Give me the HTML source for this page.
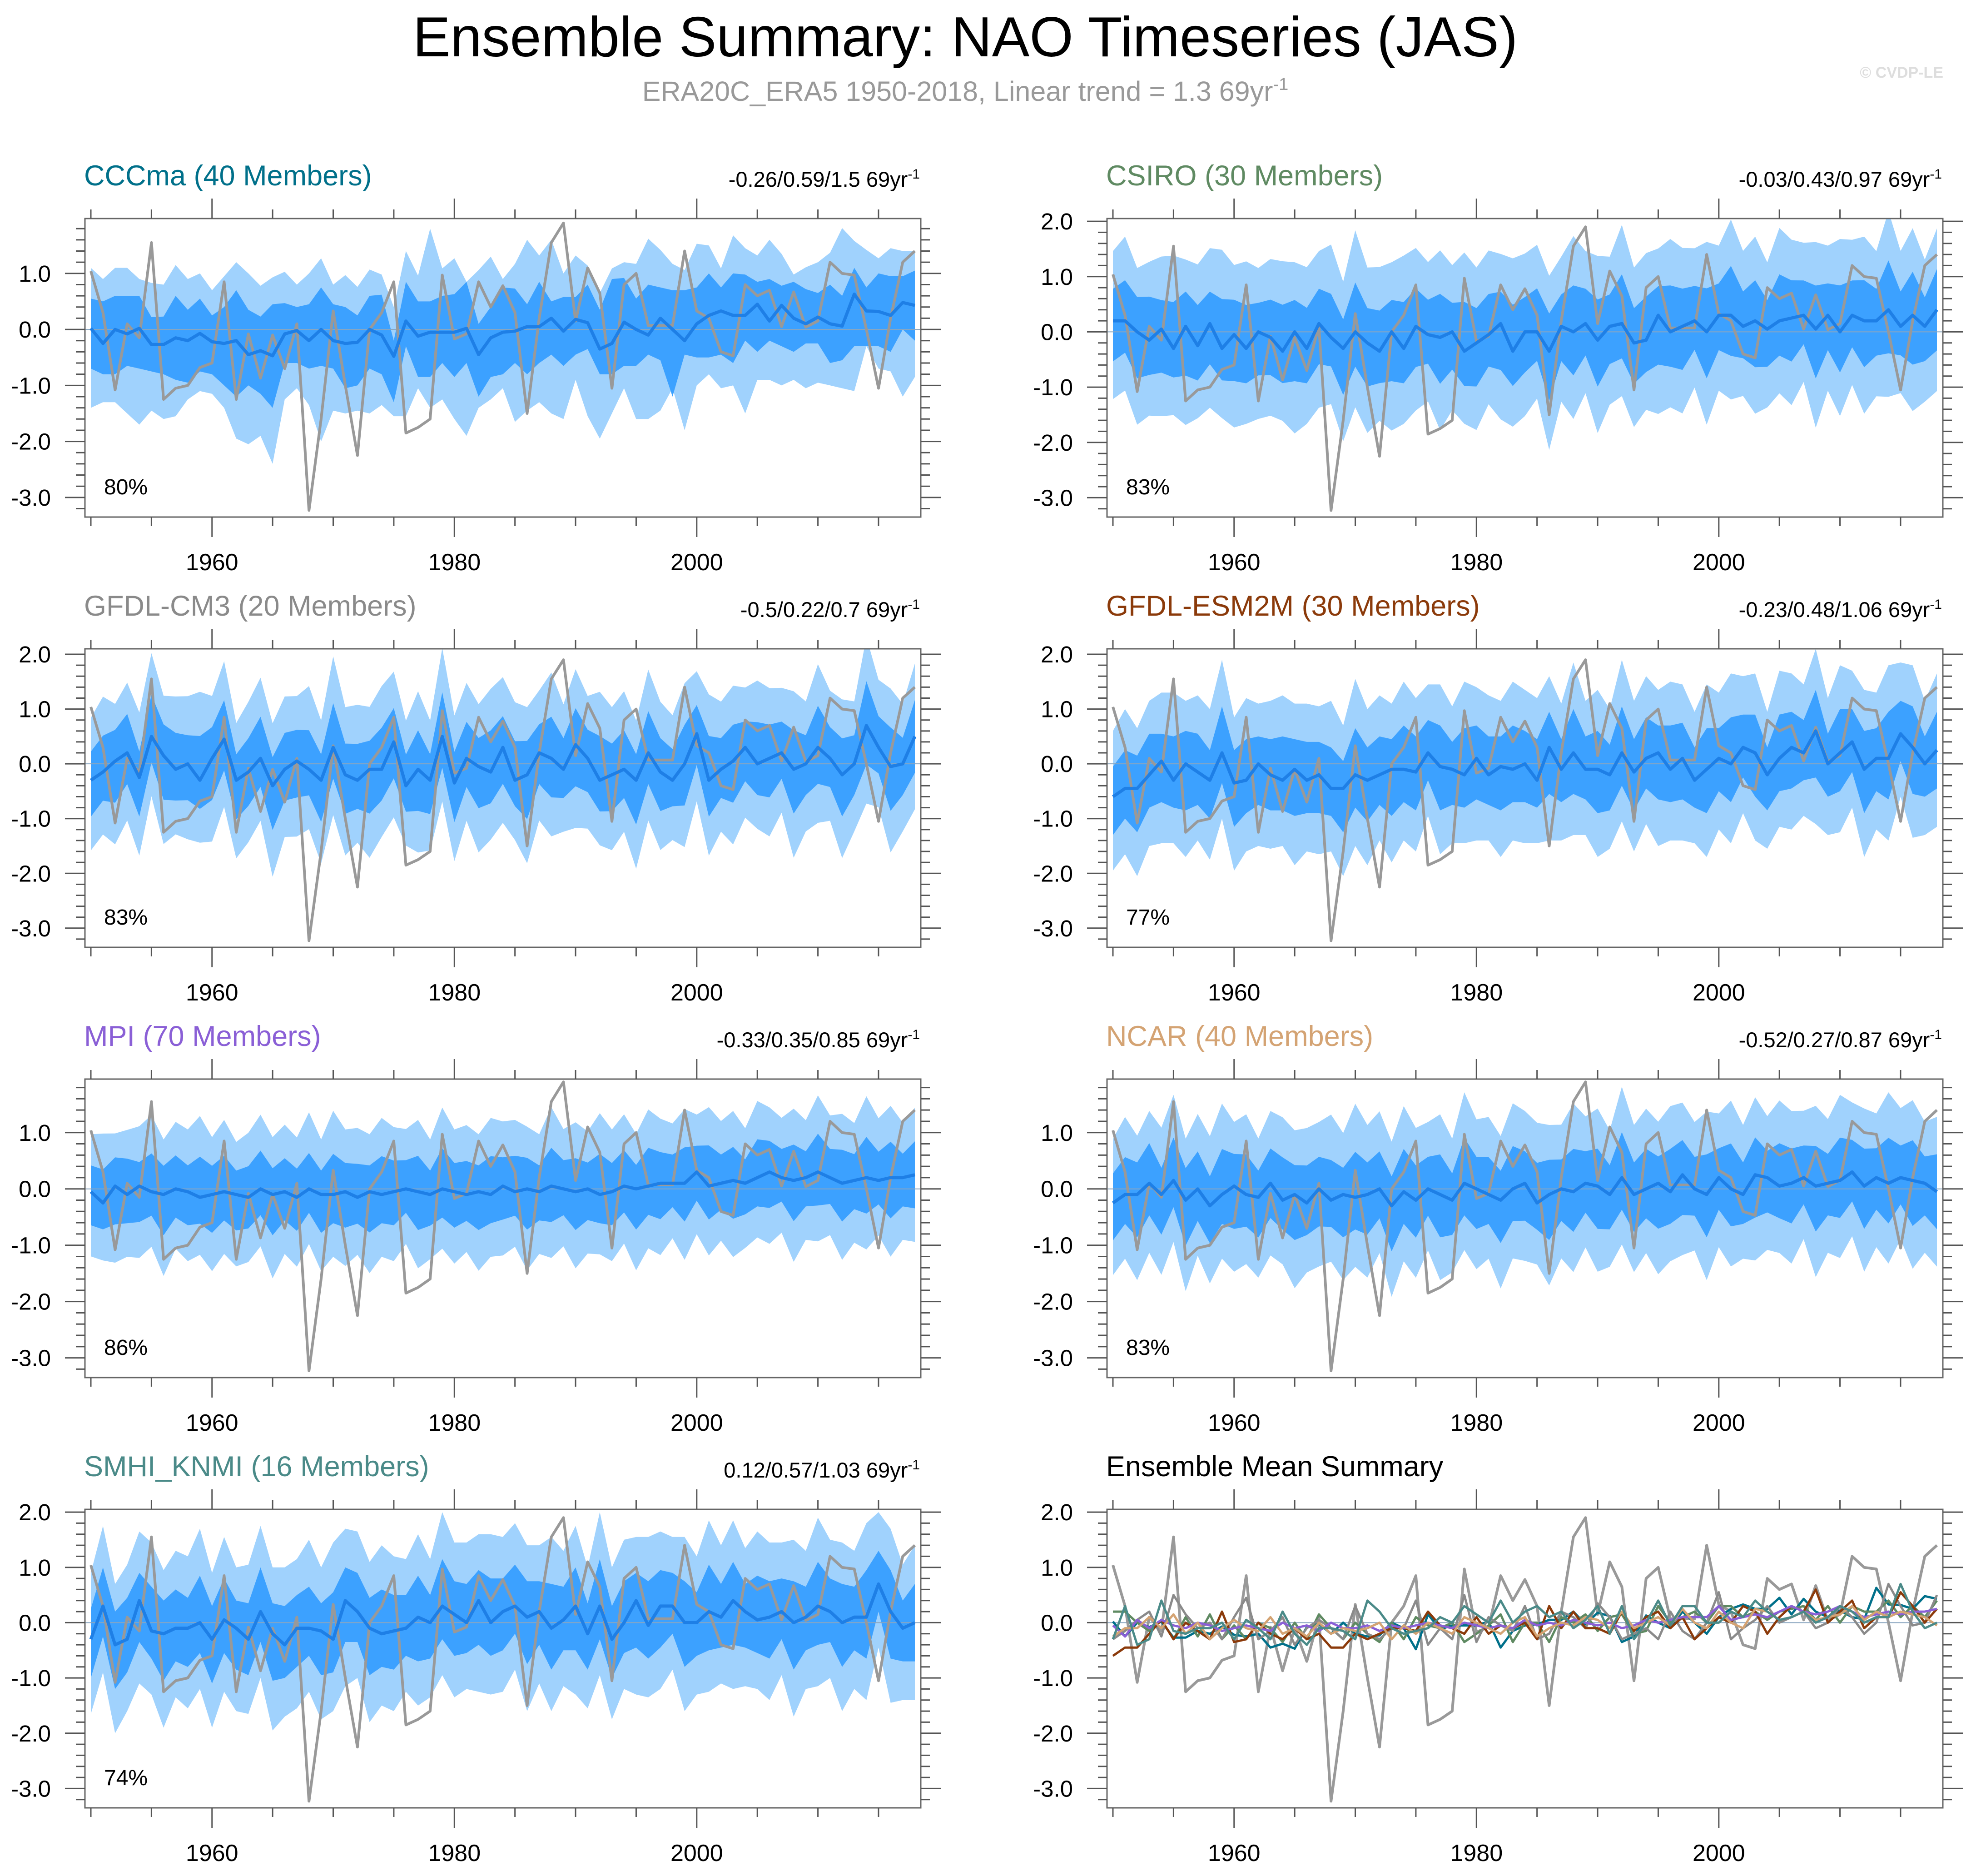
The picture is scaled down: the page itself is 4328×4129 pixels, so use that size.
<!DOCTYPE html>
<html><head><meta charset="utf-8">
<style>
html,body{margin:0;padding:0;background:#fff;}
svg{display:block;font-family:"Liberation Sans",Arial,sans-serif;}
</style></head>
<body>
<svg id="chart" width="4328" height="4129" viewBox="0 0 4328 4129" xmlns="http://www.w3.org/2000/svg">
<text x="2125" y="124" font-size="124" text-anchor="middle" fill="#000">Ensemble Summary: NAO Timeseries (JAS)</text>
<text x="2125" y="222" font-size="61" text-anchor="middle" fill="#999">ERA20C_ERA5 1950-2018, Linear trend = 1.3 69yr<tspan dy="-24" font-size="38">-1</tspan></text>
<text x="4278" y="171" font-size="34" font-weight="bold" text-anchor="end" fill="#ddd">© CVDP-LE</text>
<g id="panels"></g>
</svg>
<script>
// ---------- data ----------
const years = []; for (let y = 1950; y <= 2018; y++) years.push(y);
const obs = [1.04,0.3,-1.08,0.1,-0.15,1.55,-1.25,-1.05,-1.0,-0.68,
-0.6,0.85,-1.25,-0.08,-0.87,-0.1,-0.7,0.1,-3.23,-1.6,
0.33,-1.0,-2.25,0.0,0.3,0.85,-1.85,-1.75,-1.6,0.97,
-0.17,-0.08,0.85,0.4,0.78,0.3,-1.5,0.2,1.55,1.9,
0.15,1.1,0.65,-1.05,0.8,1.0,0.07,0.07,0.07,1.4,
0.33,0.2,-0.4,-0.47,0.8,0.6,0.7,0.05,0.67,0.04,
0.15,1.2,1.0,0.97,0.0,-1.05,0.2,1.2,1.4];
const cccmaMean = [0.02,-0.25,0.0,-0.08,0.02,-0.27,-0.27,-0.15,-0.2,-0.07,
-0.22,-0.25,-0.2,-0.45,-0.38,-0.47,-0.08,-0.02,-0.2,0.0,
-0.2,-0.25,-0.23,0.0,-0.1,-0.48,0.15,-0.12,-0.05,-0.05,
-0.05,0.02,-0.45,-0.15,-0.05,-0.03,0.05,0.05,0.2,-0.03,
0.18,0.12,-0.35,-0.25,0.13,0.0,-0.1,0.2,0.0,-0.2,
0.1,0.25,0.33,0.25,0.25,0.45,0.15,0.43,0.2,0.1,
0.22,0.1,0.06,0.63,0.33,0.32,0.25,0.48,0.43];
const cccmaOuterHi = [1.1,0.9,1.1,1.1,0.9,0.83,0.8,1.15,0.9,1.0,
0.7,0.95,1.2,1.0,0.78,0.93,1.03,0.8,1.0,1.27,
0.8,0.97,0.76,1.07,0.98,0.4,1.4,0.96,1.8,1.09,
1.27,0.85,1.06,1.3,0.9,1.17,1.6,1.32,1.6,1.0,
1.32,1.14,0.65,1.09,1.2,1.17,1.62,1.42,1.17,1.06,
1.53,1.5,1.09,1.68,1.45,1.32,1.6,1.35,0.98,1.11,
1.2,1.37,1.81,1.58,1.42,1.27,1.45,1.4,1.4];
const cccmaInnerHi = [0.55,0.5,0.6,0.6,0.6,0.22,0.23,0.6,0.35,0.55,
0.25,0.4,0.7,0.35,0.23,0.45,0.47,0.4,0.45,0.75,
0.45,0.4,0.25,0.6,0.62,-0.2,0.85,0.5,0.5,0.6,
0.63,0.85,0.1,0.4,0.75,0.73,0.45,0.85,0.5,0.58,
0.58,0.8,0.35,0.9,0.92,0.55,0.8,0.75,0.7,0.7,
0.75,1.0,0.75,1.0,0.98,0.85,0.9,0.78,0.85,0.72,
0.65,0.8,0.6,1.1,0.75,1.0,0.95,0.95,1.05];
const cccmaInnerLo = [-0.7,-0.8,-0.8,-0.65,-0.7,-0.75,-0.8,-0.9,-0.95,-0.75,
-0.8,-1.0,-1.2,-1.0,-1.15,-1.4,-0.6,-0.6,-0.7,-0.65,
-0.7,-1.05,-1.0,-0.7,-0.8,-1.3,-0.3,-0.85,-0.85,-0.6,
-0.85,-0.6,-1.2,-0.85,-0.8,-0.6,-0.8,-0.6,-0.45,-0.65,
-0.45,-0.35,-0.8,-0.8,-0.65,-0.65,-0.45,-0.55,-1.2,-0.45,
-0.5,-0.5,-0.45,-0.6,-0.2,-0.4,-0.2,-0.3,-0.4,-0.25,
-0.25,-0.6,-0.55,-0.3,-0.3,-0.3,-0.4,0.0,-0.2];
const cccmaOuterLo = [-1.4,-1.3,-1.3,-1.5,-1.7,-1.45,-1.6,-1.55,-1.25,-1.1,
-1.15,-1.4,-1.95,-2.05,-1.9,-2.4,-1.25,-1.05,-1.35,-2.0,
-1.45,-1.5,-1.45,-1.5,-1.35,-1.55,-1.55,-1.05,-1.4,-1.25,
-1.6,-1.9,-1.4,-1.25,-1.05,-1.65,-1.45,-1.3,-1.5,-1.6,
-0.9,-1.55,-1.95,-1.5,-1.05,-1.6,-1.6,-1.45,-1.05,-1.8,
-1.0,-0.8,-1.05,-1.0,-1.5,-0.9,-0.9,-1.0,-0.9,-1.05,
-0.95,-1.0,-1.05,-1.1,-0.3,-0.7,-0.75,-1.2,-0.85];
const csiroMean = [0.2,0.2,0.0,-0.15,0.05,-0.3,0.1,-0.25,0.15,-0.3,
-0.05,-0.3,0.0,-0.1,-0.35,0.0,-0.3,0.15,-0.1,-0.3,
0.0,-0.2,-0.35,0.0,-0.3,0.1,-0.05,-0.1,0.0,-0.35,
-0.2,-0.05,0.15,-0.35,0.0,0.0,-0.35,0.1,0.0,0.15,
-0.15,0.1,0.15,-0.2,-0.15,0.3,0.0,0.1,0.2,0.0,
0.3,0.3,0.1,0.2,0.05,0.2,0.25,0.3,0.05,0.3,
0.0,0.3,0.2,0.2,0.4,0.1,0.3,0.1,0.4];
const gfdlcm3Mean = [-0.3,-0.15,0.05,0.2,-0.25,0.5,0.15,-0.1,0.0,-0.3,
0.1,0.45,-0.3,-0.15,0.1,-0.4,-0.1,0.05,-0.1,-0.3,
0.3,-0.2,-0.3,-0.1,-0.1,0.4,-0.4,-0.1,-0.3,0.5,
-0.35,0.1,-0.05,-0.15,0.3,-0.3,-0.2,0.2,0.1,-0.1,
0.35,0.1,-0.3,-0.2,-0.1,-0.3,0.2,-0.15,-0.3,0.0,
0.55,-0.3,-0.1,0.05,0.3,0.0,0.1,0.2,-0.1,0.0,
0.3,0.1,-0.2,0.0,0.7,0.3,-0.05,0.0,0.5];
const esm2mMean = [-0.6,-0.45,-0.45,-0.2,0.05,-0.3,0.0,-0.15,-0.3,0.2,
-0.35,-0.3,0.0,-0.2,-0.3,-0.1,-0.3,-0.2,-0.45,-0.45,
-0.2,-0.3,-0.2,-0.1,-0.1,-0.15,0.2,-0.05,-0.1,-0.2,
0.1,-0.2,-0.05,-0.1,0.0,-0.3,0.3,-0.1,0.2,-0.1,
-0.1,-0.2,0.2,-0.15,0.1,0.2,-0.1,0.1,-0.3,-0.1,
0.1,0.0,0.3,0.2,-0.2,0.1,0.3,0.2,0.6,0.0,
0.2,0.4,-0.1,0.1,0.1,0.55,0.3,0.0,0.25];
const mpiMean = [-0.05,-0.25,0.05,-0.1,0.05,-0.05,-0.1,0.0,-0.05,-0.15,
-0.1,-0.05,-0.1,-0.15,0.0,-0.1,-0.05,-0.15,0.0,-0.1,
-0.1,-0.05,-0.15,-0.05,-0.1,-0.05,0.0,-0.05,-0.1,0.0,
-0.05,-0.1,-0.05,-0.1,0.05,-0.05,0.0,-0.05,0.05,0.0,
-0.05,0.0,-0.1,-0.05,0.05,0.0,0.05,0.1,0.1,0.1,
0.3,0.05,0.1,0.15,0.1,0.2,0.3,0.2,0.15,0.2,
0.3,0.2,0.1,0.15,0.2,0.15,0.2,0.2,0.25];
const ncarMean = [-0.25,-0.1,-0.1,0.1,-0.1,0.15,-0.2,0.0,-0.3,-0.1,
0.05,-0.1,-0.15,0.1,-0.2,-0.1,-0.25,0.0,-0.2,-0.1,
-0.15,-0.1,0.0,-0.3,-0.05,-0.2,0.0,-0.1,-0.2,0.1,
0.0,-0.1,-0.2,0.0,0.1,-0.25,-0.1,0.0,-0.05,0.1,
0.05,-0.1,0.2,-0.1,0.0,0.1,-0.05,0.25,0.0,-0.1,
0.2,0.0,-0.1,0.25,0.2,0.05,0.1,0.2,0.05,0.1,
0.15,0.3,0.05,0.2,0.1,0.2,0.15,0.1,-0.05];
const smhiMean = [-0.3,0.3,-0.4,-0.3,0.4,-0.15,-0.2,-0.1,-0.1,0.0,
-0.3,0.05,-0.1,-0.3,0.2,-0.2,-0.4,-0.1,-0.1,-0.15,
-0.3,0.4,0.2,-0.1,-0.2,-0.15,-0.1,0.1,0.0,0.3,
0.15,0.0,0.4,0.0,0.2,0.3,0.1,0.2,-0.1,0.05,
0.3,-0.2,0.3,-0.3,0.0,0.4,-0.05,0.3,0.3,0.0,
0.0,0.2,0.1,0.4,0.2,0.05,0.1,0.2,0.0,0.1,
0.3,0.2,0.0,0.1,0.1,0.7,0.2,-0.1,0.0];
const spreadInnerUp = [0.55,0.7,0.6,0.75,0.5,0.8,0.6,0.7,0.55,0.85,
0.6,0.75,0.5,0.65,0.8,0.55,0.7,0.6,0.75,0.5,
0.85,0.6,0.7,0.55,0.8,0.65,0.6,0.75,0.5,0.85,
0.6,0.7,0.55,0.8,0.6,0.75,0.65,0.55,0.8,0.6,
0.7,0.55,0.85,0.6,0.75,0.5,0.8,0.65,0.6,0.75,
0.55,0.85,0.6,0.7,0.5,0.8,0.65,0.6,0.75,0.55,
0.8,0.6,0.7,0.55,0.85,0.6,0.75,0.5,0.7];
const spreadInnerDn = [0.7,0.55,0.8,0.6,0.75,0.5,0.85,0.6,0.7,0.55,
0.8,0.6,0.75,0.65,0.55,0.85,0.6,0.7,0.5,0.8,
0.6,0.75,0.55,0.85,0.6,0.7,0.5,0.8,0.65,0.6,
0.75,0.55,0.8,0.6,0.7,0.5,0.85,0.6,0.75,0.55,
0.8,0.65,0.6,0.7,0.55,0.85,0.6,0.75,0.5,0.8,
0.6,0.7,0.55,0.8,0.65,0.6,0.75,0.5,0.85,0.6,
0.7,0.55,0.8,0.6,0.75,0.5,0.85,0.6,0.7];
const spreadOuterUp = [1.2,1.45,1.1,1.35,1.25,1.6,1.15,1.4,1.3,1.7,
1.2,1.5,1.1,1.35,1.55,1.2,1.4,1.25,1.6,1.15,
1.75,1.3,1.45,1.2,1.6,1.35,1.25,1.5,1.15,1.7,
1.3,1.45,1.2,1.6,1.35,1.5,1.3,1.2,1.65,1.25,
1.45,1.2,1.7,1.3,1.5,1.15,1.6,1.35,1.25,1.55,
1.2,1.65,1.3,1.45,1.15,1.6,1.35,1.25,1.5,1.2,
1.6,1.3,1.45,1.2,1.7,1.3,1.5,1.15,1.4];
const spreadOuterDn = [1.35,1.2,1.6,1.3,1.5,1.15,1.7,1.25,1.45,1.2,
1.6,1.3,1.5,1.35,1.2,1.75,1.3,1.45,1.15,1.6,
1.3,1.55,1.2,1.7,1.3,1.45,1.15,1.6,1.35,1.25,
1.5,1.2,1.65,1.3,1.45,1.15,1.7,1.3,1.5,1.2,
1.6,1.35,1.25,1.45,1.2,1.7,1.3,1.5,1.15,1.6,
1.3,1.45,1.2,1.6,1.35,1.25,1.5,1.15,1.7,1.3,
1.45,1.2,1.6,1.3,1.5,1.15,1.65,1.3,1.4];
const panelNames = ["CCCma (40 Members)","CSIRO (30 Members)","GFDL-CM3 (20 Members)","GFDL-ESM2M (30 Members)","MPI (70 Members)","NCAR (40 Members)","SMHI_KNMI (16 Members)"];
const panelStats = ["-0.26/0.59/1.5 69yr","-0.03/0.43/0.97 69yr","-0.5/0.22/0.7 69yr","-0.23/0.48/1.06 69yr","-0.33/0.35/0.85 69yr","-0.52/0.27/0.87 69yr","0.12/0.57/1.03 69yr"];
const panelPct = ["80%","83%","83%","77%","86%","83%","74%"];
const panelYMax = [1.98,2.05,2.1,2.1,1.95,1.95,2.05,2.05];
const panelMeans = [cccmaMean,csiroMean,gfdlcm3Mean,esm2mMean,mpiMean,ncarMean,smhiMean];
const panelSpreadScale = [1,1.05,0.95,1.0,0.85,0.95,1.0];
const yTickValues = [-3,-2,-1,0,1,2];
const xTickYears = [1960,1980,2000];
</script>
<script>
// ---------- drawing ----------
const NS = "http://www.w3.org/2000/svg";
const root = document.getElementById('panels');
const colors = ["#00708a","#5f8a62","#8a8a8a","#8b3a0a","#8a5fd6","#d4a373","#4a8a88"];
const PW = 1840, PH = 657, YMIN = -3.35;
const colX = [187, 2437];
const rowY = [481, 1428, 2375, 3322];
function mk(tag, attrs, parent) {
  const e = document.createElementNS(NS, tag);
  for (const k in attrs) e.setAttribute(k, attrs[k]);
  parent.appendChild(e);
  return e;
}
function drawPanel(p) {
  const x0 = colX[p % 2], y0 = rowY[Math.floor(p / 2)];
  const ymax = panelYMax[p];
  const xs = yr => x0 + 13 + (yr - 1950) / 68 * (PW - 26);
  const ys = v => y0 + (ymax - v) / (ymax - YMIN) * PH;
  const g = mk('g', {}, root);
  
  
  const clipId = 'clip' + p;
  const cp = mk('clipPath', {id: clipId}, g);
  mk('rect', {x: x0, y: y0, width: PW, height: PH}, cp);
  const plot = mk('g', {'clip-path': 'url(#' + clipId + ')'}, g);
  function poly(hi, lo, fill, name) {
    let d = '';
    years.forEach((yr, i) => { d += (i ? 'L' : 'M') + xs(yr).toFixed(1) + ',' + ys(hi[i]).toFixed(1); });
    for (let i = years.length - 1; i >= 0; i--) d += 'L' + xs(years[i]).toFixed(1) + ',' + ys(lo[i]).toFixed(1);
    const e = mk('path', {d: d + 'Z', fill: fill}, plot);
    
    
  }
  function line(vals, stroke, w, name) {
    const d = years.map((yr, i) => (i ? 'L' : 'M') + xs(yr).toFixed(1) + ',' + ys(vals[i]).toFixed(1)).join('');
    const e = mk('path', {d: d, fill: 'none', stroke: stroke, 'stroke-width': w, 'stroke-linejoin': 'round'}, plot);
    
    
  }
  if (p < 7) {
    const m = panelMeans[p], s = panelSpreadScale[p];
    let oh, ih, il, ol;
    if (p === 0) { oh = cccmaOuterHi; ih = cccmaInnerHi; il = cccmaInnerLo; ol = cccmaOuterLo; }
    else {
      oh = m.map((v, i) => v + spreadOuterUp[i] * s);
      ih = m.map((v, i) => v + spreadInnerUp[i] * s);
      il = m.map((v, i) => v - spreadInnerDn[i] * s);
      ol = m.map((v, i) => v - spreadOuterDn[i] * s);
    }
    poly(oh, ol, '#a0d2fd', 'outer-spread-band');
    poly(ih, il, '#3ca1ff', 'inner-spread-band');
  }
  const z = mk('line', {x1: x0, x2: x0 + PW, y1: ys(0), y2: ys(0), stroke: '#8aa6c0', 'stroke-width': 2}, plot);
  
  
  if (p < 7) {
    line(obs, '#999', 6, 'observed-nao-line');
    line(panelMeans[p], '#1e7fe6', 7, 'ensemble-mean-line');
  } else {
    line(obs, '#999', 6, 'observed-nao-line');
    panelMeans.forEach((m, k) => line(m, colors[k], 5, 'ensemble-mean-line-' + panelNames[k].split(' ')[0].toLowerCase()));
  }
  const fr = mk('rect', {x: x0, y: y0, width: PW, height: PH, fill: 'none', stroke: '#666', 'stroke-width': 3}, g);
  
  
  const tg = mk('g', {stroke: '#555', 'stroke-width': 3}, g);
  for (let yr = 1950; yr <= 2015; yr += 5) {
    const major = xTickYears.includes(yr), L = major ? 44 : 20, x = xs(yr);
    mk('line', {x1: x, x2: x, y1: y0, y2: y0 - L}, tg);
    mk('line', {x1: x, x2: x, y1: y0 + PH, y2: y0 + PH + L}, tg);
  }
  for (let k = -16; k <= 10; k++) {
    const v = k / 5; if (v < YMIN || v > ymax) continue;
    const major = k % 5 === 0, L = major ? 44 : 20, y = ys(v);
    mk('line', {x1: x0, x2: x0 - L, y1: y, y2: y}, tg);
    mk('line', {x1: x0 + PW, x2: x0 + PW + L, y1: y, y2: y}, tg);
  }
  yTickValues.forEach(v => {
    if (v > ymax || v < YMIN) return;
    const t = mk('text', {x: x0 - 75, y: ys(v) + 18, 'font-size': 51, 'text-anchor': 'end', fill: '#000'}, g);
    t.textContent = v.toFixed(1);
    
    
  });
  xTickYears.forEach(yr => {
    const t = mk('text', {x: xs(yr), y: y0 + PH + 117, 'font-size': 52, 'text-anchor': 'middle', fill: '#000'}, g);
    t.textContent = yr;
    
    
  });
  const tt = mk('text', {x: x0 - 2, y: y0 - 73, 'font-size': 63, fill: p < 7 ? colors[p] : '#000'}, g);
  tt.textContent = p < 7 ? panelNames[p] : 'Ensemble Mean Summary';
  
  
  if (p < 7) {
    const st = mk('text', {x: x0 + PW - 2, y: y0 - 70, 'font-size': 47, 'text-anchor': 'end', fill: '#000'}, g);
    st.textContent = panelStats[p];
    const sup = mk('tspan', {dy: -18, 'font-size': 30}, st);
    sup.textContent = '-1';
    
    
    const pc = mk('text', {x: x0 + 42, y: y0 + PH - 50, 'font-size': 48, fill: '#000'}, g);
    pc.textContent = panelPct[p];
    
    
  }
}
for (let p = 0; p < 8; p++) drawPanel(p);
</script>
</body></html>
